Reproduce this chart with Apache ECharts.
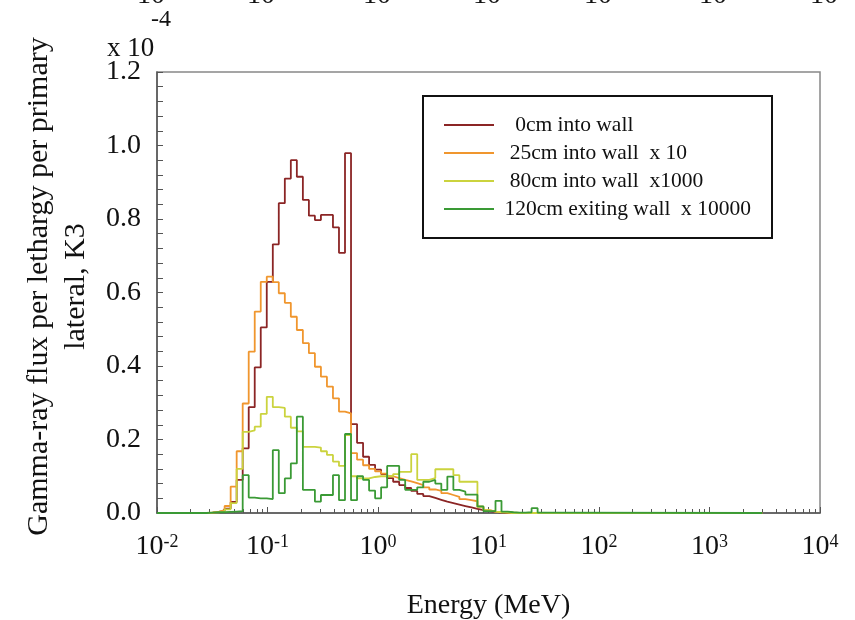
<!DOCTYPE html>
<html><head><meta charset="utf-8">
<script src="https://cdn.jsdelivr.net/npm/echarts@6/dist/echarts.min.js"></script>
<style>html,body{margin:0;padding:0;background:#fff}#c{width:855px;height:620px}</style>
</head><body><div id="c"></div>
<script>
// Bin edges (MeV), log-uniform histogram bins
const binEdges = [0.02809,0.03185,0.03611,0.04093,0.04641,0.05260,0.05963,0.06761,0.07663,0.08687,
  0.09847,0.1117,0.1265,0.1435,0.1626,0.1843,0.2090,0.2369,0.2685,0.3044,
  0.3451,0.3912,0.4435,0.5028,0.5700,0.6462,0.7325,0.8304,0.9412,1.067,
  1.210,1.371,1.555,1.762,1.998,2.265,2.568,2.911,3.300,3.741,
  4.241,4.808,5.450,6.178,7.004,7.940,9.000,10.20,11.57,13.11,
  14.86,16.85,19.10,21.65,24.54,27.83,31.54];
const energyStart = 0.01;
const energyEnd = 3000;

// values (x 1e-4) per bin
const wall0cm = [0.001,0.003,0.006,0.012,0.03,0.09,0.176,0.288,0.396,0.505,
  0.629,0.731,0.843,0.910,0.960,0.915,0.852,0.809,0.797,0.811,
  0.811,0.777,0.708,0.979,0.242,0.191,0.153,0.131,0.118,0.106,
  0.095,0.085,0.076,0.068,0.06,0.052,0.046,0.041,0.036,0.031,
  0.027,0.023,0.019,0.015,0.011,0.008,0.005,0.003,0.001,0,
  0,0,0,0,0,0];
const wall25cm = [0.001,0.003,0.008,0.019,0.072,0.168,0.298,0.439,0.548,0.629,
  0.643,0.628,0.598,0.572,0.534,0.498,0.462,0.435,0.398,0.371,
  0.344,0.312,0.276,0.271,0.163,0.145,0.13,0.12,0.113,0.107,
  0.10,0.095,0.09,0.086,0.081,0.076,0.07,0.064,0.06,0.054,
  0.049,0.044,0.038,0.035,0.032,0.017,0.008,0.004,0.003,0.002,
  0.001,0,0,0,0,0];
const wall80cm = [0.001,0.002,0.004,0.01,0.027,0.12,0.221,0.225,0.235,0.27,
  0.316,0.288,0.286,0.262,0.232,0.222,0.18,0.18,0.178,0.168,
  0.158,0.14,0.128,0.212,0.1,0.094,0.094,0.098,0.1,0.1,
  0.1,0.106,0.112,0.112,0.16,0.09,0.09,0.095,0.119,0.119,
  0.119,0.103,0.085,0.085,0.085,0.017,0.008,0.004,0.002,0.001,
  0,0,0,0,0,0];
const wall120cm = [0.001,0.002,0.002,0.003,0.004,0.005,0.103,0.042,0.04,0.04,
  0.038,0.171,0.054,0.094,0.135,0.262,0.063,0.063,0.031,0.049,
  0.049,0.103,0.035,0.215,0.035,0.10,0.09,0.061,0.04,0.07,
  0.128,0.128,0.09,0.063,0.063,0.07,0.085,0.09,0.08,0.063,
  0.099,0.063,0.058,0.05,0.05,0.018,0.005,0.005,0.033,0.004,
  0.002,0.001,0.001,0.002,0.013,0.001];

const seriesNames = ['0cm into wall','25cm into wall  x 10','80cm into wall  x1000','120cm exiting wall  x 10000'];
const legendPad = ['   ','  ','  ',' '];
const seriesColors = ['#8B2525','#F0962E','#CBD33E','#3A9A35'];
const yTickLabels = ['0.0','0.2','0.4','0.6','0.8','1.0','1.2'];
const xTickExponents = ['-2','-1','0','1','2','3','4'];
const xMinorTicks = [];
[0.01,0.1,1,10,100,1000].forEach(d=>{[2,3,4,5,6,7,8,9].forEach(m=>xMinorTicks.push(+(d*m).toPrecision(3)));});
const topCutLabels = ['10','10','10','10','10','10','10'];
const topCutX = [137,247,363,473,584,699,810];

function build(vals){
  const d=[[energyStart,0]];
  for(let i=0;i<binEdges.length;i++){ d.push([binEdges[i], i<vals.length?vals[i]:0]); }
  d.push([energyEnd,0]);
  return d;
}
const allVals=[wall0cm,wall25cm,wall80cm,wall120cm];
const FF='"Liberation Serif","Times New Roman",serif';

const chart=echarts.init(document.getElementById('c'),null,{renderer:'canvas'});
const graphics=[
  {type:'rect',shape:{x:423,y:96,width:349,height:142},style:{fill:'none',stroke:'#111',lineWidth:2},z:10},
  {type:'text',left:107,top:35,style:{text:'x 10',font:'27px '+FF,fill:'#111'}},
  {type:'text',left:151,top:8,style:{text:'-4',font:'24px '+FF,fill:'#111'}}
];
topCutLabels.forEach((t,i)=>graphics.push({type:'text',left:topCutX[i],top:-18,style:{text:t,font:'28px '+FF,fill:'#111'}}));

chart.setOption({
  animation:false,
  backgroundColor:'#fff',
  grid:{left:157,right:35,top:72,bottom:107,show:true,borderColor:'#888',borderWidth:1.5,outerBoundsMode:'none',containLabel:false},
  legend:{left:439,top:109,orient:'vertical',icon:'rect',itemWidth:50,itemHeight:2,itemGap:6,selectedMode:false,
    data:seriesNames,
    formatter:n=>legendPad[seriesNames.indexOf(n)]+n,
    textStyle:{fontFamily:FF,fontSize:21.5,color:'#111',lineHeight:22}},
  xAxis:[{type:'log',logBase:10,min:0.01,max:10000,
    name:'Energy (MeV)',nameLocation:'middle',nameGap:79,
    nameTextStyle:{fontFamily:FF,fontSize:28,color:'#111'},
    axisLine:{show:true,lineStyle:{color:'#555',width:1.5}},
    axisTick:{show:true,inside:true,length:6,lineStyle:{color:'#555'}},
    splitLine:{show:false},
    axisLabel:{margin:20,color:'#111',
      formatter:v=>{const e=Math.round(Math.log10(v));return '{b|10}{s|'+xTickExponents[e+2]+'}';},
      rich:{b:{fontFamily:FF,fontSize:28,color:'#111'},s:{fontFamily:FF,fontSize:18,color:'#111',verticalAlign:'top'}}}},
   {type:'log',logBase:10,min:0.01,max:10000,gridIndex:0,position:'bottom',
    axisLine:{show:false},axisLabel:{show:false},splitLine:{show:false},
    axisTick:{show:true,inside:true,length:4,customValues:xMinorTicks,lineStyle:{color:'#555'}}}],
  yAxis:{type:'value',min:0,max:1.2,interval:0.2,
    name:'Gamma-ray flux per lethargy per primary\nlateral, K3',nameLocation:'middle',nameRotate:90,nameGap:54,
    nameTextStyle:{fontFamily:FF,fontSize:30,color:'#111',lineHeight:37,padding:[0,0,0,12]},
    axisLine:{show:true,lineStyle:{color:'#555',width:1.5}},
    axisTick:{show:true,inside:true,length:6,lineStyle:{color:'#555'}},
    minorTick:{show:true,splitNumber:5,length:6,lineStyle:{color:'#555'}},
    splitLine:{show:false},
    axisLabel:{margin:16,color:'#111',fontFamily:FF,fontSize:28,formatter:(v)=>yTickLabels[Math.round(v/0.2)]}},
  graphic:graphics,
  series:allVals.map((vals,i)=>({
    name:seriesNames[i],type:'line',step:'end',xAxisIndex:0,showSymbol:false,symbol:'none',
    data:build(vals),lineStyle:{color:seriesColors[i],width:1.8},itemStyle:{color:seriesColors[i]},z:2+i
  }))
});
</script></body></html>
